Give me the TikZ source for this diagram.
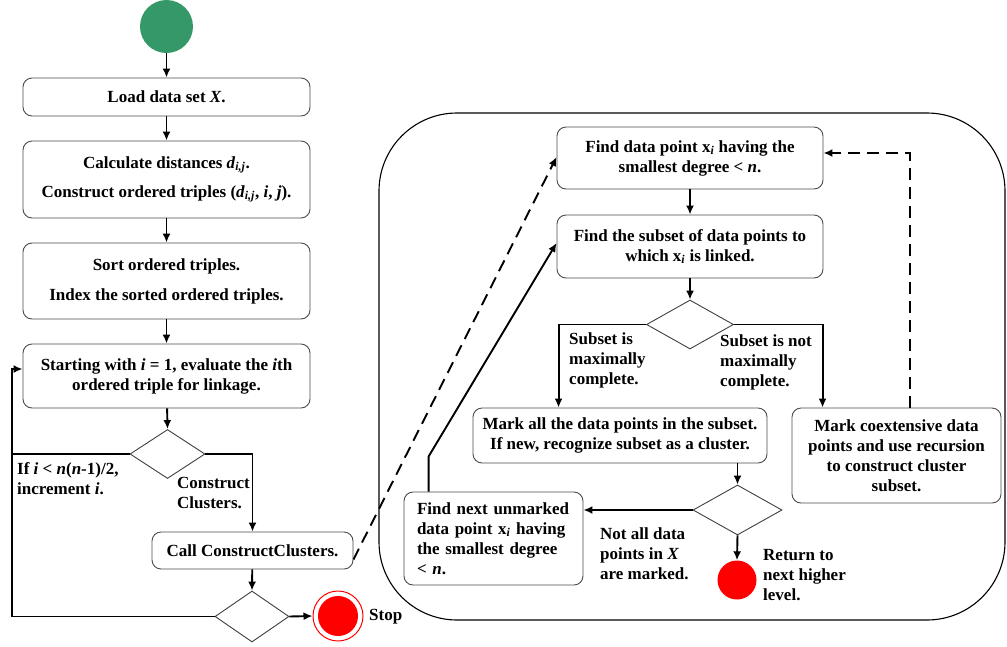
\documentclass[tikz,border=0pt]{standalone}
\usepackage{fontspec}
\setmainfont{Liberation Serif}
\usetikzlibrary{shapes.geometric,arrows.meta,calc}
\newcommand{\myfont}{\fontsize{17}{20}\selectfont\bfseries}
\newcommand{\xsub}{x\textsubscript{\textit{i}}}
\newcommand{\dij}{\textit{d}\textsubscript{\textit{i,j}}}
\definecolor{startgreen}{RGB}{52,152,104}
\definecolor{stopred}{RGB}{255,0,0}
\tikzset{
  box/.style={draw=black!70, line width=0.9pt, rounded corners=9pt, fill=white,
              align=center, font=\myfont, inner sep=0pt},
  dia/.style={draw=black!75, line width=0.9pt, diamond, inner sep=0pt, fill=white},
  lbl/.style={font=\myfont, align=left, anchor=north west, inner sep=0pt},
  arr/.style={line width=1.9pt, -{Latex[length=9pt,width=8pt]}},
  plain/.style={line width=1.9pt},
  dasharr/.style={line width=1.9pt, dash pattern=on 12pt off 7pt, -{Latex[length=9pt,width=8pt]}}
}
\begin{document}
\begin{tikzpicture}[x=1pt,y=-1pt]
\useasboundingbox (0,0) rectangle (1007,646);

% big container
\node[draw=black, line width=1.1pt, rounded corners=78pt, minimum width=626pt, minimum height=507pt, inner sep=0pt] (container) at (692,366.5) {};

% left column
\node[circle, fill=startgreen, minimum size=53pt, inner sep=0pt] (start) at (166.5,26.5) {};
\node[box, minimum width=287pt, minimum height=38pt] (load) at (166.5,97) {Load data set \textit{X}.};
\node[box, minimum width=287pt, minimum height=77pt] (calc) at (166.5,179.5) {Calculate distances \dij.\\[9pt] Construct ordered triples (\dij, \textit{i}, \textit{j}).};
\node[box, minimum width=287pt, minimum height=76pt] (sort) at (166.5,281) {Sort ordered triples.\\[10pt] Index the sorted ordered triples.};
\node[box, minimum width=287pt, minimum height=64pt] (startbox) at (166.5,376) {Starting with \textit{i} = 1, evaluate the \textit{i}th\\ ordered triple for linkage.};
\node[dia, minimum width=75pt, minimum height=49pt] (d1) at (167.5,454) {};
\node[box, minimum width=201pt, minimum height=37pt] (call) at (252.5,550.5) {Call ConstructClusters.};
\node[dia, minimum width=74pt, minimum height=51pt] (d2) at (252,616.5) {};
\node[circle, draw=stopred, line width=1pt, fill=white, minimum size=50pt, inner sep=0pt] (stop) at (338,616) {};
\node[circle, fill=stopred, minimum size=40pt, inner sep=0pt] (stopin) at (stop) {};
\node[font=\myfont, anchor=west, inner sep=0pt] (stoplbl) at (369,617) {Stop};

\coordinate (loopT) at (12,369);
\node[lbl] (lblinc) at (17,462) {If \textit{i} < \textit{n}(\textit{n}-1)/2,\\ increment \textit{i}.};
\node[lbl] (lblcc) at (177,477) {Construct\\ Clusters.};

\draw[arr] (start) -- (load);
\draw[arr] (load) -- (calc);
\draw[arr] (calc) -- (sort);
\draw[arr] (sort) -- (startbox);
\draw[arr] (startbox) -- (d1.north);
\draw[plain] (d1.west) -- (d1.west -| loopT);
\draw[arr] (d1.east) -| (call.north);
\draw[arr] (call) -- (d2.north);
\draw[arr] (d2.west) -| (loopT) -- (loopT -| startbox.west);
\draw[arr] (d2.east) -- (stop.west);

% right side
\node[box, minimum width=266pt, minimum height=62pt] (find1) at (690,158) {Find data point \xsub\ having the\\ smallest degree < \textit{n}.};
\node[box, minimum width=266pt, minimum height=63pt] (find2) at (690,246.5) {Find the subset of data points to\\ which \xsub\ is linked.};
\node[dia, minimum width=87pt, minimum height=49pt] (d3) at (690,324.5) {};
\node[box, minimum width=294pt, minimum height=55pt] (markall) at (620,435.5) {Mark all the data points in the subset.\\ If new, recognize subset as a cluster.};
\node[box, minimum width=209pt, minimum height=95pt] (markco) at (896.5,455.5) {Mark coextensive data\\ points and use recursion\\ to construct cluster\\ subset.};
\node[dia, minimum width=89pt, minimum height=50pt] (d4) at (737.5,510) {};
\node[box, align=left, minimum width=179pt, minimum height=93pt, text width=153pt] (findnext) at (493.5,538.5) {Find next unmarked\\ data point \xsub\ having\\ the smallest degree\\ < \textit{n}.};
\node[circle, fill=stopred, minimum size=39pt, inner sep=0pt] (ret) at (737,580) {};

\node[lbl] (lblmax) at (569,332) {Subset is\\ maximally\\ complete.};
\node[lbl] (lblnmax) at (720,334) {Subset is not\\ maximally\\ complete.};
\node[lbl] (lblnot) at (600,527) {Not all data\\ points in \textit{X}\\ are marked.};
\node[lbl] (lblret) at (763,549) {Return to\\ next higher\\ level.};

\draw[arr] (find1) -- (find2);
\draw[arr] (find2) -- (d3.north);
\draw[arr] (d3.west) -| ([xshift=86pt]markall.north west);
\draw[arr] (d3.east) -| ([xshift=31pt]markco.north west);
\draw[arr] (d4.north |- markall.south) -- (d4.north);
\draw[arr] (d4.west) -- (d4.west -| findnext.east);
\draw[arr] (d4.south) -- (ret.north);
\draw[dasharr] ([xshift=118pt]markco.north west) |- ([yshift=5pt]find1.east);
\draw[arr] ([xshift=25pt]findnext.north west) -- ++(0,-35) -- ([yshift=3.5pt]find2.west);
\draw[dasharr] ([yshift=-9pt]call.east) -- ([yshift=1pt]find1.west);
\end{tikzpicture}
\end{document}
